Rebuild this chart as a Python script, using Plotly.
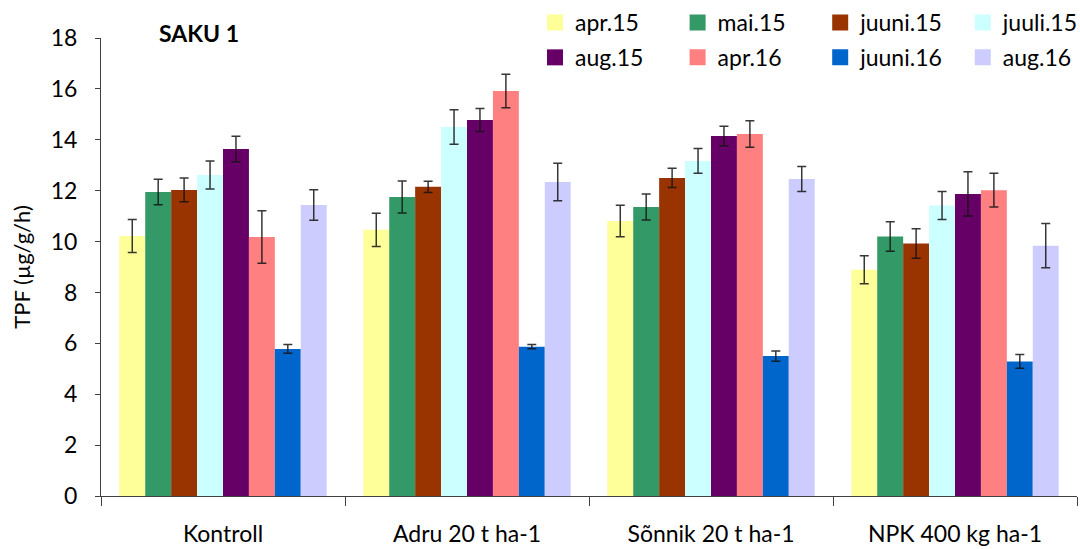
import plotly.graph_objects as go

# Treatments on the category axis
treatments = ["Kontroll", "Adru 20 t ha-1", "Sõnnik 20 t ha-1", "NPK 400 kg ha-1"]

# Sampling dates (one bar series each) and their fill colours
periods = ["apr.15", "mai.15", "juuni.15", "juuli.15", "aug.15", "apr.16", "juuni.16", "aug.16"]
colors = ["#FFFF99", "#339966", "#993300", "#CCFFFF", "#660066", "#FF8080", "#0066CC", "#CCCCFF"]

# Mean TPF (µg/g/h) per treatment, one list per sampling date
apr15 = [10.22, 10.46, 10.81, 8.89]
mai15 = [11.95, 11.75, 11.36, 10.20]
juuni15 = [12.03, 12.15, 12.50, 9.92]
juuli15 = [12.62, 14.50, 13.17, 11.42]
aug15 = [13.64, 14.78, 14.15, 11.87]
apr16 = [10.18, 15.92, 14.23, 12.02]
juuni16 = [5.78, 5.87, 5.50, 5.29]
aug16 = [11.44, 12.34, 12.46, 9.84]

# Standard errors
apr15_se = [0.65, 0.65, 0.62, 0.55]
mai15_se = [0.50, 0.63, 0.51, 0.58]
juuni15_se = [0.47, 0.22, 0.38, 0.58]
juuli15_se = [0.55, 0.68, 0.49, 0.55]
aug15_se = [0.50, 0.45, 0.38, 0.87]
apr16_se = [1.03, 0.66, 0.52, 0.66]
juuni16_se = [0.17, 0.08, 0.20, 0.27]
aug16_se = [0.60, 0.74, 0.49, 0.87]

means = [apr15, mai15, juuni15, juuli15, aug15, apr16, juuni16, aug16]
errors = [apr15_se, mai15_se, juuni15_se, juuli15_se, aug15_se, apr16_se, juuni16_se, aug16_se]

FONT = "Lato"
W, H = 1080, 549
ML, MR, MT, MB = 101, 3, 38, 53
PW = W - ML - MR
PH = H - MT - MB

fig = go.Figure()

for name, col, vals, errs in zip(periods, colors, means, errors):
    fig.add_trace(go.Bar(
        name=name, x=treatments, y=vals,
        marker=dict(color=col, line=dict(width=0)),
        error_y=dict(type="data", array=errs, visible=True,
                     color="rgba(20,20,20,0.85)", thickness=1.5, width=4.5),
        showlegend=False,
    ))

# Legend entries: four columns of two, with square swatches
legend_cols = 4
legend_layout = {}
for i, (name, col) in enumerate(zip(periods, colors)):
    k = i % legend_cols
    lname = "legend" if k == 0 else f"legend{k + 1}"
    fig.add_trace(go.Scatter(
        x=[None], y=[None], mode="markers", name=name,
        marker=dict(symbol="square", size=16, color=col, line=dict(width=0)),
        legend=lname, legendgroup=name, showlegend=True,
    ))

for k in range(legend_cols):
    lname = "legend" if k == 0 else f"legend{k + 1}"
    left_px = 535 + 142.6 * k
    legend_layout[lname] = dict(
        x=(left_px - ML) / PW, xanchor="left",
        y=1 + (MT - 1) / PH, yanchor="top",
        orientation="v", bgcolor="rgba(0,0,0,0)",
        font=dict(family=FONT, size=23, color="#000"),
        tracegroupgap=2, itemclick=False, itemdoubleclick=False,
    )

fig.update_layout(
    width=W, height=H,
    margin=dict(l=ML, r=MR, t=MT, b=MB, pad=0, autoexpand=False),
    paper_bgcolor="white", plot_bgcolor="white",
    barmode="group", bargap=0.15, bargroupgap=0,
    font=dict(family=FONT, size=23, color="#000"),
    **legend_layout,
)

fig.update_xaxes(
    type="category", showgrid=False, zeroline=False, automargin=False,
    showline=True, linecolor="#404040", linewidth=1,
    ticks="outside", tickson="boundaries", ticklen=9, tickcolor="#404040",
    tickfont=dict(family=FONT, size=23, color="#000"),
    ticklabelstandoff=17,
)

fig.update_yaxes(
    range=[0, 18], dtick=2, showgrid=False, zeroline=False, automargin=False,
    showline=True, linecolor="#404040", linewidth=1,
    ticks="outside", ticklen=5, tickcolor="#404040",
    tickfont=dict(family=FONT, size=23, color="#000"),
    ticklabelstandoff=13,
    title=dict(text="TPF (µg/g/h)", font=dict(family=FONT, size=22, color="#000"), standoff=14),
)

fig.add_annotation(
    text="<b>SAKU 1</b>", xref="paper", yref="paper",
    x=(157 - ML) / PW, xanchor="left", y=1 + (MT - 33) / PH, yanchor="middle",
    showarrow=False, font=dict(family=FONT, size=23, color="#000"),
)

fig.write_html("out.html")
